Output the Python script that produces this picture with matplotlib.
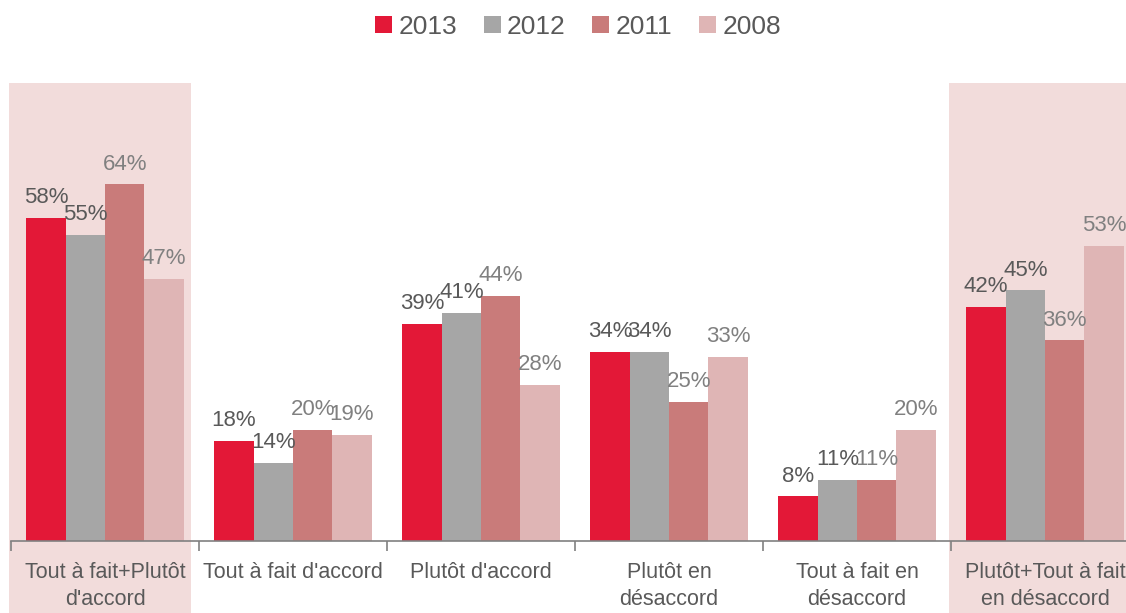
import matplotlib
matplotlib.use("Agg")
import matplotlib.pyplot as plt
import numpy as np

categories = ["Tout à fait+Plutôt\nd'accord", "Tout à fait d'accord", "Plutôt d'accord",
              "Plutôt en\ndésaccord", "Tout à fait en\ndésaccord", "Plutôt+Tout à fait\nen désaccord"]
series_names = ["2013", "2012", "2011", "2008"]
v2013 = [58, 18, 39, 34, 8, 42]
v2012 = [55, 14, 41, 34, 11, 45]
v2011 = [64, 20, 44, 25, 11, 36]
v2008 = [47, 19, 28, 33, 20, 53]
values = [v2013, v2012, v2011, v2008]
colors = ["#E31837", "#A6A6A6", "#C97B7A", "#DFB5B5"]
label_colors = ["#595959", "#595959", "#808080", "#808080"]
highlight = [0, 5]

plt.rcParams['font.family'] = ['Liberation Sans', 'DejaVu Sans']

W, H = 1126, 613
fig = plt.figure(figsize=(W / 100, H / 100), dpi=100)
ax_left, ax_bottom_px, ax_top_px = 11, 541, 83
ax = fig.add_axes([ax_left / W, (H - ax_bottom_px) / H, 1128 / W, (ax_bottom_px - ax_top_px) / H])
ax.set_facecolor("none")

n = len(categories)
x = np.arange(n)
bw = 0.209
ax.set_xlim(-0.5, n - 0.5)
ax.set_ylim(0, 82.2)

box_bottom = -(H - ax_bottom_px) / (ax_bottom_px - ax_top_px) - 0.01
for i in highlight:
    ax.axvspan(i - 0.51, i + 0.455, ymin=box_bottom, ymax=1.0, color="#F2DCDB",
               zorder=0, clip_on=False, lw=0)

for k, (vals, c, lc, name) in enumerate(zip(values, colors, label_colors, series_names)):
    pos = x + (k - 1.5) * bw
    ax.bar(pos, vals, width=bw, color=c, label=name, zorder=2)
    for xi, v in zip(pos, vals):
        ax.annotate(f"{v}%", (xi, v), xytext=(0, 7), textcoords="offset points",
                    ha="center", va="bottom", fontsize=16, color=lc, zorder=3)

for s in ["top", "left", "right"]:
    ax.spines[s].set_visible(False)
ax.spines["bottom"].set_color("#808080")
ax.spines["bottom"].set_linewidth(1.2)
ax.set_yticks([])
ax.set_xticks(x)
ax.set_xticklabels(categories, fontsize=15.5, color="#595959", linespacing=1.4)
ax.tick_params(axis="x", which="major", length=0, pad=15)
ax.set_xticks(np.arange(-0.5, n, 1.0), minor=True)
ax.tick_params(axis="x", which="minor", length=7, width=1.2, color="#808080", direction="out")

leg = fig.legend(loc="center", bbox_to_anchor=(578 / W, 1 - 27 / H), ncol=4, frameon=False,
                 fontsize=19, handlelength=0.64, handleheight=0.64, handletextpad=0.25,
                 columnspacing=1.0, borderaxespad=0)
for t in leg.get_texts():
    t.set_color("#595959")

fig.savefig("out.png", dpi=100)
